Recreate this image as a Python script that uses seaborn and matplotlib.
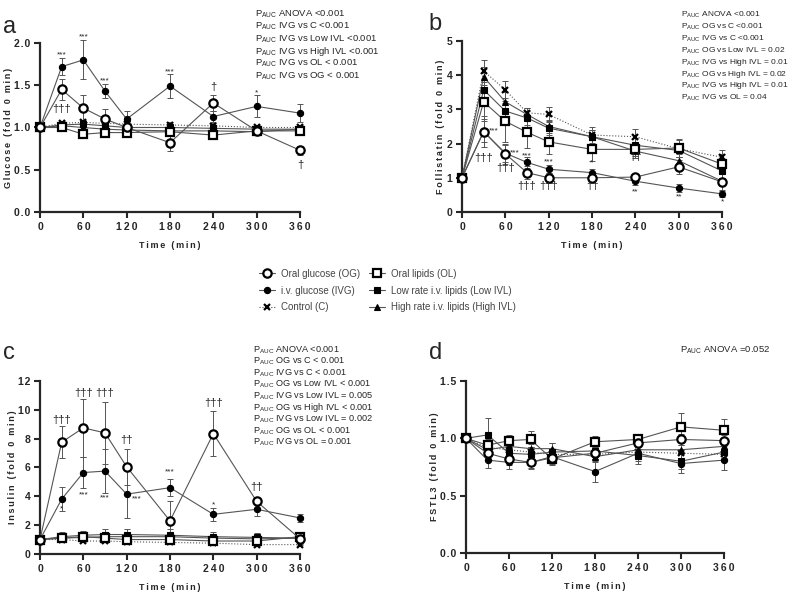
import numpy as np
import matplotlib
matplotlib.use("Agg")
import matplotlib.pyplot as plt
import seaborn as sns

# === data ===
times = [0, 30, 60, 90, 120, 180, 240, 300, 360]
groups = ["OG", "IVG", "C", "OL", "LowIVL", "HighIVL"]
labels = ["Oral glucose (OG)", "i.v. glucose (IVG)", "Control (C)",
          "Oral lipids (OL)", "Low rate i.v. lipids (Low IVL)",
          "High rate i.v. lipids (High IVL)"]

glucose = {
    "OG":      [1.0, 1.45, 1.23, 1.10, 1.00, 0.82, 1.29, 0.96, 0.73],
    "IVG":     [1.0, 1.72, 1.80, 1.43, 1.10, 1.49, 1.13, 1.25, 1.17],
    "C":       [1.0, 1.05, 1.06, 1.05, 1.04, 1.03, 1.02, 1.00, 1.00],
    "OL":      [1.0, 1.00, 0.92, 0.94, 0.94, 0.95, 0.91, 0.96, 0.96],
    "LowIVL":  [1.0, 1.03, 1.04, 1.02, 1.00, 1.00, 0.99, 0.98, 0.98],
    "HighIVL": [1.0, 1.02, 1.00, 0.98, 0.97, 0.96, 0.96, 0.95, 0.98],
}
glucose_err = {
    "OG":      [0, 0.12, 0.15, 0.12, 0.08, 0.10, 0.09, 0.04, 0.05],
    "IVG":     [0, 0.10, 0.23, 0.08, 0.10, 0.14, 0.06, 0.13, 0.11],
    "C":       [0, 0.03, 0.03, 0.03, 0.03, 0.04, 0.03, 0.03, 0.03],
    "OL":      [0, 0.03, 0.03, 0.03, 0.03, 0.03, 0.03, 0.03, 0.03],
    "LowIVL":  [0, 0.03, 0.04, 0.03, 0.03, 0.03, 0.03, 0.03, 0.03],
    "HighIVL": [0, 0.03, 0.03, 0.03, 0.03, 0.03, 0.03, 0.03, 0.03],
}

follistatin = {
    "OG":      [1.0, 2.35, 1.70, 1.15, 1.00, 1.00, 1.02, 1.32, 0.88],
    "IVG":     [1.0, 2.35, 1.72, 1.45, 1.25, 1.15, 0.90, 0.70, 0.53],
    "C":       [1.0, 4.12, 3.57, 2.90, 2.85, 2.25, 2.20, 1.85, 1.60],
    "OL":      [1.0, 3.22, 2.65, 2.33, 2.05, 1.83, 1.83, 1.87, 1.40],
    "LowIVL":  [1.0, 3.57, 2.95, 2.75, 2.45, 2.20, 1.95, 1.80, 1.20],
    "HighIVL": [1.0, 3.95, 3.22, 2.85, 2.50, 2.20, 1.78, 1.50, 0.90],
}
follistatin_err = {
    "OG":      [0, 0.45, 0.30, 0.20, 0.15, 0.12, 0.10, 0.20, 0.10],
    "IVG":     [0, 0.30, 0.25, 0.15, 0.12, 0.12, 0.10, 0.12, 0.08],
    "C":       [0, 0.32, 0.25, 0.15, 0.22, 0.22, 0.22, 0.25, 0.22],
    "OL":      [0, 0.50, 0.60, 0.45, 0.35, 0.35, 0.20, 0.25, 0.30],
    "LowIVL":  [0, 0.30, 0.25, 0.20, 0.20, 0.20, 0.20, 0.20, 0.20],
    "HighIVL": [0, 0.30, 0.30, 0.20, 0.20, 0.20, 0.20, 0.20, 0.25],
}

insulin = {
    "OG":      [1.0, 7.75, 8.75, 8.40, 6.05, 2.30, 8.35, 3.65, 1.05],
    "IVG":     [1.0, 3.80, 5.65, 5.75, 4.15, 4.60, 2.75, 3.10, 2.50],
    "C":       [1.0, 1.00, 0.90, 0.90, 0.85, 0.80, 0.75, 0.65, 0.65],
    "OL":      [1.0, 1.10, 1.20, 1.10, 1.00, 1.00, 0.90, 0.90, 1.20],
    "LowIVL":  [1.0, 1.20, 1.30, 1.35, 1.35, 1.30, 1.20, 1.15, 1.10],
    "HighIVL": [1.0, 1.10, 1.15, 1.20, 1.20, 1.20, 1.10, 1.05, 1.10],
}
insulin_err = {
    "OG":      [0, 1.10, 2.00, 2.15, 1.25, 1.35, 1.55, 0.20, 0.10],
    "IVG":     [0, 0.85, 1.10, 1.50, 1.65, 0.60, 0.45, 0.45, 0.25],
    "C":       [0, 0.10, 0.10, 0.10, 0.10, 0.10, 0.10, 0.10, 0.05],
    "OL":      [0, 0.20, 0.30, 0.30, 0.30, 0.30, 0.20, 0.20, 0.10],
    "LowIVL":  [0, 0.30, 0.30, 0.35, 0.40, 0.40, 0.35, 0.30, 0.15],
    "HighIVL": [0, 0.25, 0.25, 0.30, 0.30, 0.30, 0.25, 0.30, 0.10],
}

fstl3 = {
    "OG":      [1.0, 0.87, 0.82, 0.79, 0.83, 0.87, 0.96, 0.99, 0.98],
    "IVG":     [1.0, 0.81, 0.79, 0.79, 0.84, 0.71, 0.87, 0.78, 0.81],
    "C":       [1.0, 0.92, 0.90, 0.88, 0.86, 0.86, 0.88, 0.87, 0.86],
    "OL":      [1.0, 0.94, 0.98, 0.99, 0.82, 0.97, 0.99, 1.10, 1.07],
    "LowIVL":  [1.0, 1.03, 0.87, 0.86, 0.88, 0.89, 0.85, 0.80, 0.88],
    "HighIVL": [1.0, 0.90, 0.93, 0.91, 0.91, 0.84, 0.90, 0.90, 0.93],
}
fstl3_err = {
    "OG":      [0, 0.05, 0.05, 0.05, 0.05, 0.05, 0.05, 0.05, 0.05],
    "IVG":     [0, 0.07, 0.06, 0.06, 0.05, 0.09, 0.07, 0.08, 0.09],
    "C":       [0, 0.04, 0.04, 0.04, 0.04, 0.04, 0.04, 0.04, 0.04],
    "OL":      [0, 0.05, 0.05, 0.07, 0.05, 0.05, 0.04, 0.12, 0.10],
    "LowIVL":  [0, 0.15, 0.06, 0.06, 0.08, 0.05, 0.07, 0.07, 0.06],
    "HighIVL": [0, 0.04, 0.04, 0.04, 0.05, 0.05, 0.04, 0.04, 0.04],
}

p_glucose = ["ANOVA <0.001", "IVG vs C <0.001", "IVG vs Low IVL <0.001",
             "IVG vs High IVL <0.001", "IVG vs OL < 0.001", "IVG vs OG < 0.001"]
p_follistatin = ["ANOVA <0.001", "OG vs C <0.001", "IVG vs C <0.001",
                 "OG vs Low IVL = 0.02", "IVG vs High IVL = 0.01",
                 "OG vs High IVL = 0.02", "IVG vs High IVL = 0.01", "IVG vs OL = 0.04"]
p_insulin = ["ANOVA <0.001", "OG vs C < 0.001", "IVG vs C < 0.001",
             "OG vs Low IVL < 0.001", "IVG vs Low IVL = 0.005",
             "OG vs High IVL < 0.001", "IVG vs Low IVL = 0.002",
             "OG vs OL < 0.001", "IVG vs OL = 0.001"]
p_fstl3 = ["ANOVA =0.052"]

# significance marks: (time, y, text, align)
sig_glucose = [(30, 1.86, "***", "center"), (60, 2.07, "***", "center"),
               (90, 1.55, "***", "center"), (180, 1.66, "***", "center"),
               (30, 1.22, "†††", "center"), (240, 1.48, "†", "center"),
               (300, 1.41, "*", "center"), (360, 0.56, "†", "center")]
sig_follistatin = [(37, 2.37, "***", "left"), (30, 1.58, "†††", "center"),
                   (66, 1.72, "***", "left"), (60, 1.29, "†††", "center"),
                   (90, 1.64, "***", "center"), (90, 0.76, "†††", "center"),
                   (120, 1.46, "***", "center"), (120, 0.76, "†††", "center"),
                   (180, 1.43, "*", "center"), (180, 0.76, "††", "center"),
                   (240, 1.60, "††", "center"), (240, 0.58, "**", "center"),
                   (300, 0.44, "**", "center"), (360, 0.29, "*", "center")]
sig_insulin = [(30, 9.3, "†††", "center"), (30, 3.1, "*", "center"),
               (60, 11.2, "†††", "center"), (90, 11.2, "†††", "center"),
               (60, 4.1, "***", "center"), (90, 3.9, "***", "center"),
               (120, 7.9, "††", "center"), (127, 3.8, "***", "left"),
               (180, 5.7, "***", "center"), (240, 10.5, "†††", "center"),
               (240, 3.4, "*", "center"), (300, 4.65, "††", "center")]

# === style ===
sns.set_style("ticks")
plt.rcParams['font.family'] = ['Liberation Sans', 'DejaVu Sans']
plt.rcParams['mathtext.fontset'] = 'custom'
plt.rcParams['mathtext.rm'] = 'Liberation Sans'
plt.rcParams['mathtext.it'] = 'Liberation Sans:italic'
plt.rcParams['mathtext.bf'] = 'Liberation Sans:bold'


def spaced(s, sep="\u2009"):
    # wide letter spacing like the original axis titles
    return sep.join(s)


line_col = "#555555"
styles = {
    "OG":      dict(marker="o", markersize=6, markerfacecolor="white", markeredgecolor="black", markeredgewidth=1.6, linestyle="-"),
    "IVG":     dict(marker="o", markersize=4.5, markerfacecolor="black", markeredgecolor="black", markeredgewidth=0.8, linestyle="-"),
    "C":       dict(marker="x", markersize=5, markerfacecolor="black", markeredgecolor="black", markeredgewidth=1.6, linestyle=":"),
    "OL":      dict(marker="s", markersize=5.8, markerfacecolor="white", markeredgecolor="black", markeredgewidth=1.6, linestyle="-"),
    "LowIVL":  dict(marker="s", markersize=4.8, markerfacecolor="black", markeredgecolor="black", markeredgewidth=0.8, linestyle="-"),
    "HighIVL": dict(marker="^", markersize=4.8, markerfacecolor="black", markeredgecolor="black", markeredgewidth=0.8, linestyle="-"),
}
draw_order = ["C", "HighIVL", "LowIVL", "OL", "IVG", "OG"]

fig = plt.figure(figsize=(8, 5.93), dpi=100)

# letter, axes rect, data, errors, yticks, fmt, ylabel, p-texts, sig marks,
# p-text position, p-text size, p-text line step, letter position
panels = [
    ("a", [0.05, 0.6425, 0.325, 0.285], glucose, glucose_err, [0, 0.5, 1.0, 1.5, 2.0], "{:.1f}", "Glucose (fold 0 min)", p_glucose, sig_glucose, (0.319, 0.976), 6.8, 0.0208, (0.004, 0.955)),
    ("b", [0.5775, 0.6425, 0.325, 0.2885], follistatin, follistatin_err, [0, 1, 2, 3, 4, 5], "{:.0f}", "Follistatin (fold 0 min)", p_follistatin, sig_follistatin, (0.851, 0.975), 6.0, 0.0200, (0.536, 0.96)),
    ("c", [0.05, 0.0658, 0.325, 0.2917], insulin, insulin_err, [0, 2, 4, 6, 8, 10, 12], "{:.0f}", "Insulin (fold 0 min)", p_insulin, sig_insulin, (0.316, 0.41), 6.6, 0.0195, (0.004, 0.405)),
    ("d", [0.5825, 0.0675, 0.3225, 0.29], fstl3, fstl3_err, [0, 0.5, 1.0, 1.5], "{:.1f}", "FSTL3 (fold 0 min)", p_fstl3, [], (0.85, 0.41), 6.8, 0.02, (0.536, 0.405)),
]

handles = {}
for letter, rect, data, err, yticks, fmt, ylab, ptxt, sigs, ppos, psize, pstep, lpos in panels:
    ax = fig.add_axes(rect)
    for g in draw_order:
        ax.errorbar(times, data[g], yerr=err[g], fmt="none", ecolor="#555555",
                    elinewidth=0.7, capsize=2.5, capthick=0.7, clip_on=False, zorder=2)
        sns.lineplot(x=times, y=data[g], ax=ax, color=line_col, linewidth=0.8,
                     clip_on=False, zorder=3, legend=False, **styles[g])
        handles[g] = ax.lines[-1]
    ax.set_xlim(0, 360)
    ax.set_ylim(yticks[0], yticks[-1])
    ax.set_xticks([0, 60, 120, 180, 240, 300, 360])
    ax.set_xticklabels([spaced(str(t)) for t in [0, 60, 120, 180, 240, 300, 360]])
    ax.set_yticks(yticks)
    ax.set_yticklabels([spaced(fmt.format(v), "\u200a") for v in yticks])
    ax.tick_params(labelsize=7.5, width=1.5, length=4, pad=3)
    for t in ax.get_xticklabels() + ax.get_yticklabels():
        t.set_fontweight("bold")
    for s in ["left", "bottom"]:
        ax.spines[s].set_linewidth(1.6)
    sns.despine(ax=ax)
    ax.set_xlabel(spaced("Time (min)"), fontsize=6.5, fontweight="bold", labelpad=7)
    ax.set_ylabel(spaced(ylab), fontsize=6.5, fontweight="bold", labelpad=1)

    for (tx, ty, s, ha) in sigs:
        fs = 6 if "*" in s else 8
        ax.text(tx, ty, s, ha=ha, va="center", fontsize=fs, color="#222222")

    fig.text(lpos[0], lpos[1], letter, fontsize=17, va="center", ha="left")

    # P_AUC text block
    for i, t in enumerate(ptxt):
        fig.text(ppos[0], ppos[1] - i * pstep, r"$\mathrm{P_{AUC}}$ " + t,
                 fontsize=psize, va="center", ha="left")

fig.legend([handles[g] for g in groups], labels, loc="upper left",
           bbox_to_anchor=(0.318, 0.555), ncol=2, frameon=False, fontsize=7,
           handlelength=1.6, handletextpad=0.6, labelspacing=0.7,
           columnspacing=1.0, borderpad=0, labelcolor="#444444")

fig.savefig("out.png", dpi=100)
